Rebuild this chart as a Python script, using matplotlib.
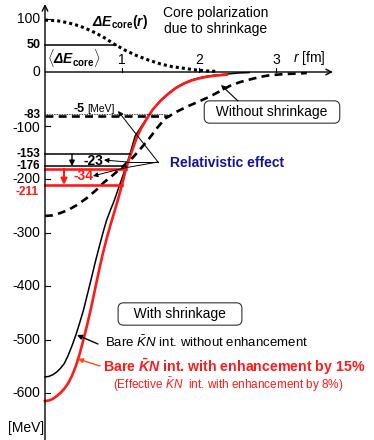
import matplotlib
matplotlib.use("Agg")
import matplotlib.pyplot as plt
import numpy as np

plt.rcParams['font.family'] = ['Liberation Sans', 'DejaVu Sans']
plt.rcParams['mathtext.fontset'] = 'custom'
plt.rcParams['mathtext.rm'] = 'Liberation Sans'
plt.rcParams['mathtext.it'] = 'Liberation Sans:italic'
plt.rcParams['mathtext.bf'] = 'Liberation Sans:bold'
plt.rcParams['mathtext.bfit'] = 'Liberation Sans:bold:italic'

# core polarization dE_core(r) [MeV]
r_core = [0, 0.15, 0.3, 0.45, 0.6, 0.75, 0.9, 1.05, 1.2, 1.35, 1.5, 1.65, 1.8, 1.95, 2.1, 2.25]
dE_core = [97, 96, 92, 86, 77, 66, 52, 40, 30, 22, 15, 10, 7, 4, 2, 1]
dE_core_mean = 50

# with shrinkage, bare KbarN int. without enhancement
r_bare = [0, 0.05, 0.1, 0.15, 0.2, 0.25, 0.3, 0.35, 0.4, 0.45, 0.5, 0.55, 0.6, 0.65, 0.7, 0.75, 0.8,
          0.85, 0.9, 0.97, 1.03, 1.1, 1.17, 1.25, 1.32, 1.4, 1.5, 1.6, 1.7, 1.8, 1.9, 2.0, 2.1, 2.2,
          2.35, 2.5, 2.65]
V_bare = [-570, -569, -566, -561, -554, -545, -530, -512, -492, -469, -445, -416, -387, -357, -329,
          -302, -277, -258, -240, -211, -186, -155, -120, -102, -87, -70, -53, -40, -29, -21, -15,
          -11, -8, -6, -4, -2, -1]

# with shrinkage, bare KbarN int. with enhancement by 15%
r_enh = [0, 0.05, 0.1, 0.15, 0.2, 0.25, 0.3, 0.35, 0.4, 0.45, 0.5, 0.55, 0.6, 0.65, 0.7, 0.75, 0.8,
         0.85, 0.9, 0.95, 1.0, 1.04, 1.08, 1.19, 1.25, 1.32, 1.4, 1.5, 1.6, 1.7, 1.8, 1.9, 2.0, 2.1,
         2.2, 2.36]
V_enh = [-615, -614, -611, -606, -600, -592, -582, -568, -550, -527, -500, -471, -440, -406, -372,
         -340, -312, -286, -262, -237, -211, -188, -168, -123, -105, -88, -70, -54, -41, -30, -22,
         -16, -12, -9, -7, -5]

# without shrinkage
r_noshr = [0, 0.1, 0.19, 0.3, 0.41, 0.54, 0.67, 0.76, 0.88, 1.0, 1.14, 1.25, 1.36, 1.46, 1.56, 1.7,
           1.84, 2.0, 2.14, 2.27, 2.4, 2.53, 2.66, 2.8, 2.92, 3.1, 3.4]
V_noshr = [-269, -268, -264, -258, -249, -236, -220, -207, -193, -178, -160, -142, -123, -104, -87,
           -75, -65, -55, -46, -36, -26, -19, -14, -9, -6, -4, -2]

# levels shown on the axis [MeV]
lev_noshr = -83
lev_noshr_rel = -78   # -83 + 5
lev_bare = -153
lev_bare_rel = -176   # -153 - 23
lev_enh = -181        # drawn just below -176
lev_enh_rel = -211    # -177 - 34

yticks = [100, 0, -100, -200, -300, -400, -500, -600]
xticks = [1, 2, 3]

RED = '#ff1a1a'
BLUE = '#14149a'

# pixel -> data helpers (axes fill the figure)
X0, Y0, SX, SY = 45, 72, 77.0, 0.535
def dx(p):
  return (p-X0)/SX
def dy(p):
  return (Y0-p)/SY
def P(x, y):
  return (dx(x), dy(y))

def arrow(head, tail, color='black', lw=0.8, ms=7):
  ax.annotate('', xy=head, xytext=tail,
    arrowprops=dict(arrowstyle='-|>', color=color, lw=lw, mutation_scale=ms, shrinkA=0, shrinkB=0))

fig = plt.figure(figsize=(3.74, 4.4), dpi=100)
ax = fig.add_axes([0, 0, 1, 1])
ax.axis('off')
ax.set_xlim(dx(0), dx(374))
ax.set_ylim(dy(440), dy(0))

# axes with arrows
ax.annotate('', xy=(0, dy(4)), xytext=(0, dy(440)),
  arrowprops=dict(arrowstyle='->', color='black', lw=1.0, shrinkA=0, shrinkB=0))
ax.annotate('', xy=(dx(333), 0), xytext=(0, 0),
  arrowprops=dict(arrowstyle='->', color='black', lw=1.0, shrinkA=0, shrinkB=0))
for v in yticks:
  if v != 0:
    ax.plot([0, 5/SX], [v, v], color='black', lw=0.8)
for r in xticks:
  ax.plot([r, r], [0, 4/SY], color='black', lw=0.8)
  ax.text(r, dy(60), str(r), ha='center', va='center', fontsize=10)
ax.text(dx(293), dy(58), r'$\mathit{r}$ [fm]', ha='left', va='center', fontsize=10)
for v in yticks:
  yl = dy(128) if v == -100 else v
  ax.text(dx(40), yl, str(v), ha='right', va='center', fontsize=10)
ax.text(dx(44), dy(428), '[MeV]', ha='right', va='center', fontsize=10)

# core polarization
ax.plot(r_core, dE_core, color='black', lw=2.2, linestyle=(0, (1, 1.0)))
r_mean = np.interp(-dE_core_mean, [-v for v in dE_core], r_core)
ax.plot([0, r_mean], [dE_core_mean, dE_core_mean], color='black', lw=1.1)
ax.text(dx(41), dE_core_mean, str(dE_core_mean), ha='right', va='center', fontsize=9, fontweight='bold')
ax.text(dx(47), dy(58), r'$\langle\mathbfit{\Delta E}_{\mathbf{core}}\rangle$', ha='left', va='center', fontsize=10)
ax.text(dx(92), dy(22), r'$\mathbfit{\Delta E}_{\mathbf{core}}\mathbf{(}\mathbfit{r}\mathbf{)}$', ha='left', va='center', fontsize=10)
ax.text(dx(216), dy(21), 'Core polarization\ndue to shrinkage', ha='center', va='center', fontsize=10, linespacing=1.1)

# curves
ax.plot(r_noshr, V_noshr, color='black', lw=1.9, dashes=(3, 2))
ax.plot(r_bare, V_bare, color='black', lw=1.1)
ax.plot(r_enh, V_enh, color=RED, lw=1.9)

# level lines
r_end = np.interp(lev_noshr, V_noshr, r_noshr)
ax.plot([0, r_end], [lev_noshr, lev_noshr], color='black', lw=1.9, dashes=(3, 2))
ax.plot([0, dx(167)], [lev_noshr_rel, lev_noshr_rel], color='black', lw=0.6, linestyle=(0, (1, 1)))
for lev in [lev_bare, lev_bare_rel]:
  ax.plot([0, np.interp(lev, V_bare, r_bare)], [lev, lev], color='black', lw=1.1)
for lev in [lev_enh, lev_enh_rel]:
  ax.plot([0, np.interp(lev, V_enh, r_enh)], [lev, lev], color=RED, lw=1.9)
arrow((dx(72), lev_bare_rel), (dx(72), lev_bare), lw=1.0, ms=8)
arrow((dx(64), lev_enh_rel), (dx(64), lev_enh), color=RED, lw=1.5, ms=9)

ax.text(dx(40), dy(115), str(lev_noshr), ha='right', va='center', fontsize=8.5, fontweight='bold')
ax.text(dx(40), lev_bare, str(lev_bare), ha='right', va='center', fontsize=8.5, fontweight='bold')
ax.text(dx(40), dy(166), str(lev_bare_rel), ha='right', va='center', fontsize=8.5, fontweight='bold')
ax.text(dx(39), dy(192), str(lev_enh_rel), ha='right', va='center', fontsize=8.5, fontweight='bold', color=RED)

ax.text(dx(73), dy(109), '-5', ha='left', va='center', fontsize=9, fontweight='bold')
ax.text(dx(87), dy(109), '[MeV]', ha='left', va='center', fontsize=7.5)
ax.text(dx(83), dy(161), '-23', ha='left', va='center', fontsize=10, fontweight='bold')
ax.text(dx(73), dy(176), '-34', ha='left', va='center', fontsize=10, fontweight='bold', color=RED)

# relativistic effect fan
fan = P(158, 162)
arrow(P(118, 111), fan, lw=0.7)
for tgt, head in [(P(127, 162), P(104, 160)), (P(124, 168), P(93, 176))]:
  ax.plot([fan[0], tgt[0]], [fan[1], tgt[1]], color='black', lw=0.7)
  arrow(head, tgt, lw=0.7)
ax.text(dx(170), dy(163), 'Relativistic effect', ha='left', va='center', fontsize=10, fontweight='bold', color=BLUE)

# boxes
box = dict(boxstyle='round,pad=0.3,rounding_size=0.4', fc='white', ec='#333333', lw=0.8)
ax.text(dx(272), dy(112), '  Without shrinkage  ', ha='center', va='center', fontsize=10, bbox=box)
arrow(P(221, 85), P(238, 101))
ax.text(dx(180), dy(314), '   With shrinkage   ', ha='center', va='center', fontsize=10, bbox=box)

# curve labels
ax.text(dx(105), dy(342), r'Bare $\mathit{\bar{K}N}$ int. without enhancement', ha='left', va='center', fontsize=9.5)
arrow(P(77, 335), P(98, 344), lw=1.0)
ax.text(dx(103), dy(367), r'Bare $\mathbfit{\bar{K}N}$ int. with enhancement by 15%', ha='left', va='center',
  fontsize=10.2, fontweight='bold', color=RED)
ax.text(dx(113), dy(385), r'(Effective $\mathit{\bar{K}N}$  int. with enhancement by 8%)', ha='left', va='center',
  fontsize=8.5, color=RED)
arrow(P(78, 359), P(100, 366), color='#ff4a1a', lw=1.0)

fig.savefig('out.png', dpi=100)
